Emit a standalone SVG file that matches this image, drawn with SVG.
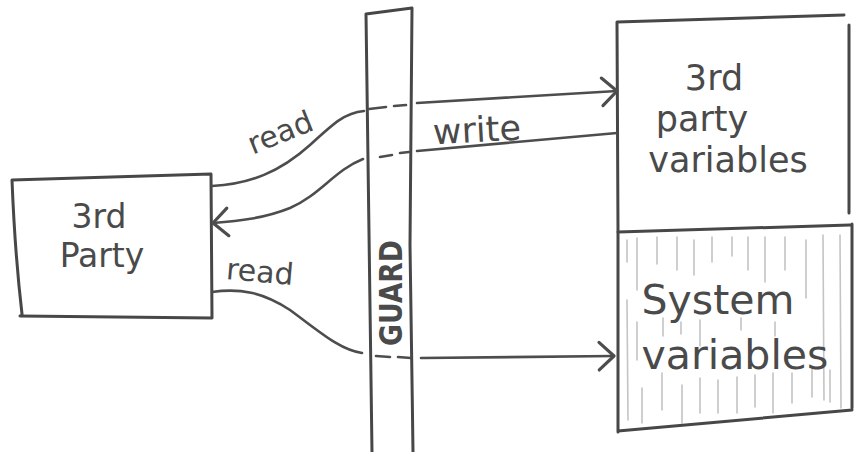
<svg xmlns="http://www.w3.org/2000/svg" width="856" height="452" viewBox="0 0 856 452">
<style>
.ln{fill:none;stroke:#474747;stroke-width:3;stroke-linecap:round;stroke-linejoin:round}
.cn{fill:none;stroke:#4d4d4d;stroke-width:2.6;stroke-linecap:round;stroke-linejoin:round}
.hatch{fill:none;stroke:#c4c4c4;stroke-width:1.6;stroke-linecap:round}
.txt{font-family:"DejaVu Sans","Noto Sans",sans-serif;fill:#4a4a4a}
</style>
<defs>
<marker id="arr" markerUnits="userSpaceOnUse" markerWidth="30" markerHeight="34" viewBox="-16 -16 20 32" refX="0" refY="0" orient="auto">
<path d="M-14,-13 L0,0 L-14,13" fill="none" stroke="#4d4d4d" stroke-width="3" stroke-linecap="round" stroke-linejoin="round"/>
</marker>
</defs>
<rect width="856" height="452" fill="#ffffff"/>

<g id="guard">
<path class="ln" d="M366,14 L412,8 M366,14 C368,150 369,300 372,452 M412,8 C411,120 410,200 410,245 C411,300 412,380 413,452"/>
<text class="txt" font-weight="bold" font-size="32" text-anchor="middle" textLength="106" lengthAdjust="spacingAndGlyphs" transform="translate(402,293) rotate(-90)">GUARD</text>
</g>

<g id="third-party">
<path class="ln" d="M12,180 L211,174 M12,180 C14,230 18,280 22,314 M211,174 L212,318 M20,316 L212,318"/>
<text class="txt" font-size="33" text-anchor="middle" x="99" y="228">3rd</text>
<text class="txt" font-size="33" text-anchor="middle" x="102" y="267">Party</text>
</g>

<g id="variables">
<g id="third-party-variables">
<path class="ln" d="M617,22 L844,15 M617,22 L618,232 M849,25 L849,213"/>
<text class="txt" font-size="35" text-anchor="middle" x="714" y="90">3rd</text>
<text class="txt" font-size="35" text-anchor="middle" x="702" y="131">party</text>
<text class="txt" font-size="35" text-anchor="middle" x="728" y="172">variables</text>
</g>
<g id="system-variables">
<g class="hatch">
<path d="M637,238 L637,290 M657,237 L657,264 M677,237 L677,270 M694,240 L694,275 M712,237 L712,262 M732,237 L732,256 M748,237 L748,270 M765,237 L765,282 M785,237 L785,270 M806,240 L806,298 M823,235 L824,400 M840,235 L841,408"/>
<path d="M627,240 L627,262 M627,300 L628,420 M637,322 L637,360 M663,318 L663,336 M681,322 L681,334 M700,320 L700,346 M741,318 L741,330 M775,322 L775,336"/>
<path d="M642,388 L642,423 M662,373 L662,410 M682,385 L682,423 M700,378 L700,413 M718,380 L718,413 M737,377 L737,413 M755,375 L755,407 M773,373 L773,413 M792,373 L792,403 M812,367 L812,397 M830,370 L830,402"/>
</g>
<path class="ln" d="M618,232 L850,225 M618,232 L618,432 M852,224 L852,408 M618,431 L852,410"/>
<text class="txt" font-size="41" text-anchor="middle" x="718" y="314">System</text>
<text class="txt" font-size="41" text-anchor="middle" x="735" y="369">variables</text>
</g>
</g>

<g id="connectors">
<g id="write-conn">
<path class="cn" d="M212,186 C250,184 280,172 310,145 C335,122 345,113 364,111"/>
<path class="cn" d="M369,109 L386,107 M394,106 L406,105"/>
<path class="cn" d="M417,103 L617,91" marker-end="url(#arr)"/>
</g>
<g id="read-conn-1">
<path class="cn" d="M617,133 L417,151"/>
<path class="cn" d="M409,152 L400,153 M392,155 L380,157"/>
<path class="cn" d="M363,159 C335,170 320,195 290,208 C265,218 240,221 213,223" marker-end="url(#arr)"/>
</g>
<g id="read-conn-2">
<path class="cn" d="M212,292 C240,288 262,292 290,310 C320,332 340,350 362,353"/>
<path class="cn" d="M376,356 L390,357 M398,357 L411,358"/>
<path class="cn" d="M421,358 L614,356" marker-end="url(#arr)"/>
</g>
<g id="connector-labels">
<text class="txt" font-size="30" text-anchor="middle" transform="translate(284,142) rotate(-22)">read</text>
<text class="txt" font-size="35" text-anchor="middle" x="477" y="142" transform="rotate(-3 477 132)">write</text>
<text class="txt" font-size="30" text-anchor="middle" x="260" y="282" transform="rotate(5 260 272)">read</text>
</g>
</g>
</svg>
